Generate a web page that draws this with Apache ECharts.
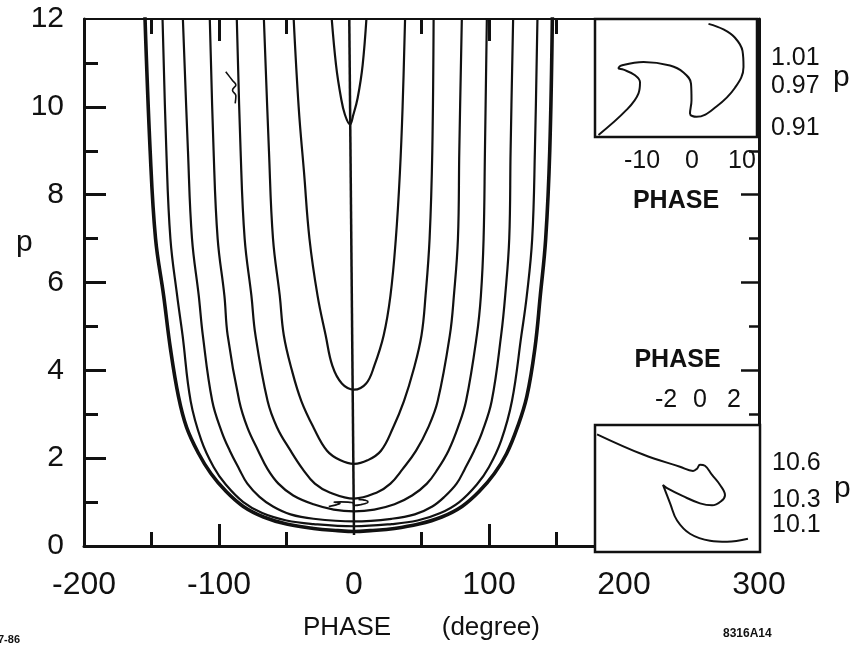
<!DOCTYPE html>
<html>
<head>
<meta charset="utf-8">
<script src="https://cdn.jsdelivr.net/npm/echarts@6/dist/echarts.min.js"></script>
<style>
  html, body { margin: 0; padding: 0; background: #fff; }
  #chart { width: 859px; height: 646px; }
</style>
</head>
<body>
<div id="chart"></div>
<script>
// Phase-space trajectories: momentum p against RF phase (degrees).

// Main panel tick labels
const phaseLabels = [-200, -100, 0, 100, 200, 300];
const pLabels = [0, 2, 4, 6, 8, 10, 12];

// Trajectories, innermost first: [phase (deg), p]
const orbitA = [[-17, 12.2], [-13.3, 10.95], [-9.6, 10.2], [-6.7, 9.82], [-3, 9.6], [-0.5, 9.82], [2.7, 10.2], [6.4, 10.95], [9.6, 12.2]];
const orbitB = [[-45, 12.2], [-41, 10], [-37, 8.5], [-33, 7], [-27, 5.7], [-21, 4.8], [-16, 4.1], [-9, 3.7], [0, 3.56], [9, 3.7], [15, 4.1], [22, 4.8], [27, 5.7], [31, 7], [34, 8.5], [36, 10], [38, 12.2]];
const orbitC = [[-67, 12.2], [-63, 9], [-60, 7], [-55, 5.7], [-52, 4.8], [-46, 4.0], [-39, 3.3], [-30, 2.7], [-20, 2.17], [-10, 1.95], [0, 1.87], [10, 1.95], [20, 2.17], [29, 2.7], [37, 3.3], [44, 4.0], [50, 4.8], [53, 5.7], [56, 7], [58, 9], [59, 12.2]];
const orbitD = [[-87, 12.2], [-84, 9], [-81, 7], [-76, 5.7], [-73, 4.8], [-64, 3.3], [-57, 2.7], [-47, 2.17], [-38, 1.75], [-29, 1.42], [-18, 1.22], [0, 1.08], [17, 1.22], [27, 1.42], [36, 1.75], [46, 2.17], [55, 2.7], [62, 3.3], [71, 4.8], [74, 5.7], [77, 7], [78, 9], [80, 12.2]];
const orbitE = [[-107, 12.2], [-104, 9], [-101, 7], [-96, 5.7], [-93.6, 4.8], [-85, 3.3], [-79, 2.7], [-71, 2.17], [-64, 1.75], [-56, 1.42], [-45, 1.15], [-30, 0.95], [-15, 0.83], [0, 0.79], [15, 0.83], [30, 0.95], [43, 1.15], [54, 1.42], [62, 1.75], [70, 2.17], [77, 2.7], [83, 3.3], [91, 4.8], [94, 5.7], [96, 7], [97, 9], [98.5, 12.2]];
const orbitF = [[-127, 12.2], [-123, 9], [-120, 7], [-115, 5.7], [-112, 4.8], [-105, 3.3], [-98, 2.6], [-92, 2.17], [-85, 1.75], [-79, 1.42], [-70, 1.12], [-60, 0.9], [-47, 0.72], [-30, 0.62], [0, 0.56], [28, 0.62], [45, 0.72], [58, 0.9], [67, 1.12], [76, 1.42], [82, 1.75], [89, 2.17], [95, 2.6], [102, 3.3], [109, 4.8], [112, 5.7], [115, 7], [116, 9], [118, 12.2]];
const orbitG = [[-142, 12.2], [-139, 9], [-136, 7], [-131, 5.7], [-127, 4.8], [-121, 3.3], [-113, 2.4], [-104, 1.8], [-95, 1.4], [-82, 1.0], [-68, 0.75], [-50, 0.58], [-30, 0.5], [0, 0.45], [28, 0.5], [47, 0.58], [64, 0.75], [78, 1.0], [91, 1.4], [100, 1.8], [109, 2.4], [117, 3.3], [124, 4.8], [128, 5.7], [132, 7], [134, 9], [136, 12.2]];
const separatrix = [[-155, 12.2], [-151, 9], [-147, 7], [-141, 5.7], [-136, 4.5], [-130, 3.4], [-124, 2.7], [-115, 2.1], [-106, 1.65], [-95, 1.25], [-82, 0.9], [-67, 0.66], [-50, 0.5], [-30, 0.4], [-12, 0.35], [0, 0.33], [12, 0.35], [30, 0.4], [48, 0.5], [65, 0.66], [80, 0.9], [93, 1.25], [104, 1.65], [113, 2.1], [121, 2.7], [128, 3.4], [134, 4.5], [138, 5.7], [142, 7], [145, 9], [147, 12.2]];
const synchronousLine = [[0, 0.25], [-3.5, 12]];
const strayCurl = [[-95, 10.8], [-90, 10.6], [-87.5, 10.5], [-90, 10.38], [-87.5, 10.25], [-88, 10.08]];

// Detail near p ~ 1 (upper inset, also drawn at full scale)
const detailLow = [[-18.7, 0.900], [-13.1, 0.936], [-10.7, 0.960], [-10.4, 0.976], [-11.4, 0.986], [-13.7, 0.994], [-14.7, 0.996], [-14.1, 1.000], [-9.7, 1.005], [-4.4, 1.000], [-1.7, 0.990], [-0.2, 0.974], [-0.1, 0.950], [-0.4, 0.931], [0.9, 0.926], [4.9, 0.941], [8.6, 0.968], [10.3, 0.998], [10.1, 1.021], [8.6, 1.040], [6.3, 1.052], [3.3, 1.060]];
const detailLowPhaseTicks = [-15, -10, -5, 0, 5, 10];
const detailLowPhaseLabels = [-10, 0, 10];
const detailLowPLabels = [0.91, 0.97, 1.01];

// Detail near p ~ 10.3 (lower inset)
const detailHigh = [[-6.06, 10.826], [-3.35, 10.665], [-1.18, 10.568], [-0.41, 10.535], [-0.18, 10.552], [0, 10.584], [0.29, 10.576], [0.71, 10.503], [1.18, 10.423], [1.47, 10.342], [1.24, 10.294], [0.71, 10.261], [0, 10.277], [-1.0, 10.334], [-1.94, 10.398], [-2.18, 10.423], [-2.06, 10.382], [-1.76, 10.277], [-1.35, 10.140], [-0.59, 10.035], [0.59, 9.979], [1.59, 9.971], [2.82, 9.995]];
const detailHighPhaseTicks = [-4, -2, 0, 2];
const detailHighPhaseLabels = [-2, 0, 2];
const detailHighPLabels = [10.1, 10.3, 10.6];

const INK = '#111';
const FONT = '"Liberation Sans", Arial, sans-serif';

// An axis that only contributes tick marks (optionally its line)
function tickAxis(opts) {
  return {
    type: 'value',
    gridIndex: opts.grid, min: opts.min, max: opts.max, position: opts.position,
    axisLine: { show: !!opts.line, onZero: false, lineStyle: { color: INK, width: opts.line || 0 } },
    axisLabel: { show: false },
    splitLine: { show: false },
    axisTick: { inside: true, length: opts.length, customValues: opts.ticks,
      lineStyle: { color: INK, width: opts.tickWidth || 3 } }
  };
}

function orbit(data, width) {
  return {
    type: 'line', xAxisIndex: 0, yAxisIndex: 0, data: data,
    symbol: 'none', smooth: 0.4, silent: true,
    lineStyle: { color: INK, width: width || 2.2 }
  };
}

const chart = echarts.init(document.getElementById('chart'), null, { renderer: 'canvas' });

chart.setOption({
  animation: false,
  backgroundColor: '#fff',
  textStyle: { fontFamily: FONT, color: INK },
  grid: [
    { left: 84, top: 19, width: 675, height: 533 },
    { left: 595, top: 19, width: 162, height: 118, show: true, backgroundColor: '#fff', borderColor: INK, borderWidth: 2.5, z: 3 },
    { left: 595, top: 425, width: 165, height: 127, show: true, backgroundColor: '#fff', borderColor: INK, borderWidth: 2.5, z: 3 }
  ],
  xAxis: [
    {
      gridIndex: 0, type: 'value', min: -200, max: 300, interval: 100, position: 'bottom',
      axisLine: { onZero: false, lineStyle: { color: INK, width: 3 } },
      axisTick: { inside: true, length: 22, customValues: [-100, 100], lineStyle: { color: INK, width: 3 } },
      axisLabel: { fontSize: 32, margin: 23, color: INK, fontFamily: FONT, customValues: phaseLabels },
      splitLine: { show: false },
      name: 'PHASE       (degree)', nameLocation: 'middle', nameGap: 69,
      nameTextStyle: { fontSize: 26, color: INK, fontFamily: FONT }
    },
    tickAxis({ grid: 0, min: -200, max: 300, position: 'bottom', length: 14, ticks: [-150, -50, 50, 150] }),
    tickAxis({ grid: 0, min: -200, max: 300, position: 'top', line: 2, length: 22, ticks: [-100, 100] }),
    tickAxis({ grid: 0, min: -200, max: 300, position: 'top', length: 15, ticks: [-150, -50, 50, 150] }),
    {
      gridIndex: 1, type: 'value', min: -19.4, max: 13, position: 'bottom',
      axisLine: { show: false, onZero: false },
      axisTick: { inside: true, length: 7, customValues: detailLowPhaseTicks, lineStyle: { color: INK, width: 2 } },
      axisLabel: { fontSize: 25, margin: 12, color: INK, fontFamily: FONT, customValues: detailLowPhaseLabels },
      splitLine: { show: false },
      name: 'PHASE', nameLocation: 'middle', nameGap: 52,
      nameTextStyle: { fontSize: 25, fontWeight: 'bold', color: INK, fontFamily: FONT }
    },
    {
      gridIndex: 2, type: 'value', min: -6.18, max: 3.53, position: 'top',
      axisLine: { show: false, onZero: false },
      axisTick: { inside: true, length: 7, customValues: detailHighPhaseTicks, lineStyle: { color: INK, width: 2 } },
      axisLabel: { fontSize: 25, margin: 12, color: INK, fontFamily: FONT, customValues: detailHighPhaseLabels },
      splitLine: { show: false },
      name: 'PHASE', nameLocation: 'middle', nameGap: 52,
      nameTextStyle: { fontSize: 25, fontWeight: 'bold', color: INK, fontFamily: FONT }
    },
    tickAxis({ grid: 2, min: -6.18, max: 3.53, position: 'bottom', length: 7, ticks: detailHighPhaseTicks, tickWidth: 2 })
  ],
  yAxis: [
    {
      gridIndex: 0, type: 'value', min: 0, max: 12, interval: 2, position: 'left',
      axisLine: { onZero: false, lineStyle: { color: INK, width: 3 } },
      axisTick: { inside: true, length: 22, customValues: [2, 4, 6, 8, 10], lineStyle: { color: INK, width: 3 } },
      axisLabel: { fontSize: 30, margin: 20, color: INK, fontFamily: FONT, customValues: pLabels },
      splitLine: { show: false }
    },
    tickAxis({ grid: 0, min: 0, max: 12, position: 'left', length: 14, ticks: [1, 3, 5, 7, 9, 11] }),
    tickAxis({ grid: 0, min: 0, max: 12, position: 'right', line: 3, length: 18, ticks: [4, 6, 8], tickWidth: 2.5 }),
    tickAxis({ grid: 0, min: 0, max: 12, position: 'right', length: 10, ticks: [3, 5, 7, 9], tickWidth: 2.5 }),
    {
      gridIndex: 1, type: 'value', min: 0.897, max: 1.067, position: 'right',
      axisLine: { show: false, onZero: false },
      axisTick: { inside: true, length: 6, customValues: detailLowPLabels, lineStyle: { color: INK, width: 2 } },
      axisLabel: { fontSize: 25, margin: 14, color: INK, fontFamily: FONT, customValues: detailLowPLabels,
        formatter: v => v.toFixed(2) },
      splitLine: { show: false },
      name: 'p', nameLocation: 'middle', nameGap: 76, nameRotate: 0,
      nameTextStyle: { fontSize: 30, color: INK, fontFamily: FONT }
    },
    tickAxis({ grid: 1, min: 0.897, max: 1.067, position: 'left', length: 6, ticks: detailLowPLabels, tickWidth: 2 }),
    {
      gridIndex: 2, type: 'value', min: 9.89, max: 10.9, position: 'right',
      axisLine: { show: false, onZero: false },
      axisTick: { inside: true, length: 7, customValues: detailHighPLabels, lineStyle: { color: INK, width: 2 } },
      axisLabel: { fontSize: 25, margin: 12, color: INK, fontFamily: FONT, customValues: detailHighPLabels,
        formatter: v => v.toFixed(1) },
      splitLine: { show: false },
      name: 'p', nameLocation: 'middle', nameGap: 74, nameRotate: 0,
      nameTextStyle: { fontSize: 30, color: INK, fontFamily: FONT }
    },
    tickAxis({ grid: 2, min: 9.89, max: 10.9, position: 'left', length: 7, ticks: detailHighPLabels, tickWidth: 2 })
  ],
  graphic: [
    { type: 'text', left: 16, top: 228, style: { text: 'p', font: '30px ' + FONT, fill: INK } },
    { type: 'text', left: -2, top: 634, style: { text: '7-86', font: 'bold 11px ' + FONT, fill: INK } },
    { type: 'text', left: 723, top: 628, style: { text: '8316A14', font: 'bold 12px ' + FONT, fill: INK } }
  ],
  series: [
    orbit(orbitA), orbit(orbitB), orbit(orbitC), orbit(orbitD),
    orbit(orbitE), orbit(orbitF), orbit(orbitG), orbit(separatrix, 3.6),
    orbit(synchronousLine, 2.5), orbit(strayCurl, 1.6), orbit(detailLow, 1.6),
    { type: 'line', xAxisIndex: 4, yAxisIndex: 4, data: detailLow, symbol: 'none', smooth: 0.4, silent: true,
      lineStyle: { color: INK, width: 2 } },
    { type: 'line', xAxisIndex: 5, yAxisIndex: 6, data: detailHigh, symbol: 'none', smooth: 0.4, silent: true,
      lineStyle: { color: INK, width: 2 } }
  ]
});
</script>
</body>
</html>
